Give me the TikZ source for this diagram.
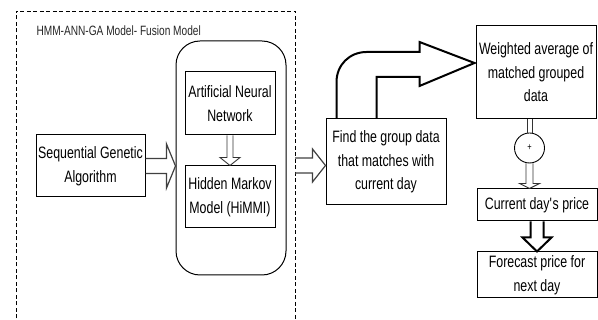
\documentclass[tikz,border=0pt]{standalone}
\usepackage{fontspec}
\setmainfont{Liberation Sans}[FakeStretch=0.75]
\usetikzlibrary{calc}

% horizontal hollow arrow: [style]{start}{tip}{shaft half width}{head half width}{head length}
\newcommand\HArrow[6][]{%
  \draw[#1] let \p1=(#2), \p2=(#3) in
    (\x1,\y1+#4) -- (\x2-#6,\y1+#4) -- (\x2-#6,\y1+#5) -- (\x2,\y1)
    -- (\x2-#6,\y1-#5) -- (\x2-#6,\y1-#4) -- (\x1,\y1-#4);}
% downward hollow arrow: [style]{start}{tip}{shaft half width}{head half width}{head length}
\newcommand\VArrow[6][]{%
  \draw[#1] let \p1=(#2), \p2=(#3) in
    (\x1-#4,\y1) -- (\x1-#4,\y2+#6) -- (\x1-#5,\y2+#6) -- (\x1,\y2)
    -- (\x1+#5,\y2+#6) -- (\x1+#4,\y2+#6) -- (\x1+#4,\y1);}

\begin{document}
\begin{tikzpicture}[x=1pt,y=-1pt,
  box/.style={draw, line width=1pt, align=center, inner sep=0pt,
    font=\fontsize{16.5}{23.5}\selectfont},
  hollow/.style={draw=black!75, line width=1.2pt, line join=miter},
  thinhollow/.style={draw=black!80, line width=0.9pt},
  boldhollow/.style={draw=black, line width=2pt, line join=miter},
  bent/.style={draw=black, line width=2pt, line join=miter},
  container/.style={draw=black, line width=0.9pt, dash pattern=on 4pt off 2.5pt}]
\useasboundingbox (0,0) rectangle (598,320);

% dashed frame of the fusion model (open at the bottom)
\draw[container] (16,325) -- (16,11) -- (295,11) -- (295,325);
\node[anchor=base west, font=\fontsize{13.5}{15}\selectfont, text=black!85]
  (title) at (33,35.5) {HMM-ANN-GA Model- Fusion Model};

% nodes
\node[draw, line width=1pt, rounded corners=24pt, minimum width=110pt,
  minimum height=234pt] (fusion) at (231,158) {};
\node[box, minimum width=109pt, minimum height=62pt] (sga) at (90.5,166)
  {Sequential Genetic\\Algorithm};
\node[box, minimum width=90pt, minimum height=63pt] (ann) at (230,103.5)
  {Artificial Neural\\Network};
\node[box, minimum width=90pt, minimum height=62pt] (hmm) at (230,197)
  {Hidden Markov\\Model (HiMMI)};
\node[box, minimum width=120pt, minimum height=86pt] (find) at (386,162)
  {Find the group data\\that matches with\\current day};
\node[box, minimum width=120pt, minimum height=93pt] (wavg) at (536,72.5)
  {Weighted average of\\matched grouped\\data};
\node[draw, circle, line width=0.9pt, minimum size=30pt, inner sep=0pt,
  font=\fontsize{10}{10}\selectfont] (plus) at (529.5,148) {+};
\node[box, minimum width=120pt, minimum height=32pt] (cur) at (537,205)
  {Current day\textquotesingle s price};
\node[box, minimum width=120pt, minimum height=46pt] (fc) at (537,275)
  {Forecast price for\\next day};

\coordinate (gate) at (295,165.5);

% connectors
\HArrow[hollow]{sga.east}{fusion.west |- sga.east}{7.5pt}{22pt}{9pt}
\VArrow[thinhollow]{ann.south}{hmm.north}{3pt}{10pt}{8pt}
\HArrow[hollow]{gate}{find.west |- gate}{7.5pt}{16.5pt}{13pt}

% bent arrow from the matching step to the weighted average
\coordinate (bo) at ($(find.north west)+(11,0)$);
\coordinate (bi) at ($(find.north west)+(51,0)$);
\coordinate (btip) at ($(wavg.west)+(-1,-9.5)$);
\draw[bent] let \p1=(bo), \p2=(bi), \p3=(btip) in
  (\x1,\y1) -- (\x1,\y3-19pt)
  .. controls (\x1,\y3-2pt) and (\x1+13pt,\y3+11pt) .. (\x1+30pt,\y3+11pt)
  -- (\x3-55pt,\y3+11pt) -- (\x3-55pt,\y3+21pt) -- (\x3,\y3)
  -- (\x3-55pt,\y3-23pt) -- (\x3-55pt,\y3-14pt) -- (\x2,\y3-14pt) -- (\x2,\y2);

% double line from the weighted average into the sum
\draw[thinhollow] ($(wavg.south -| plus.north)+(-2.5,0)$) -- ($(plus.north)+(-2.5,0.3)$);
\draw[thinhollow] ($(wavg.south -| plus.north)+(2.5,0)$) -- ($(plus.north)+(2.5,0.3)$);

\VArrow[thinhollow]{plus.south}{cur.north -| plus.south}{3.5pt}{10pt}{5pt}
\VArrow[boldhollow]{cur.south}{fc.north}{6.5pt}{14.5pt}{14pt}
\end{tikzpicture}
\end{document}
